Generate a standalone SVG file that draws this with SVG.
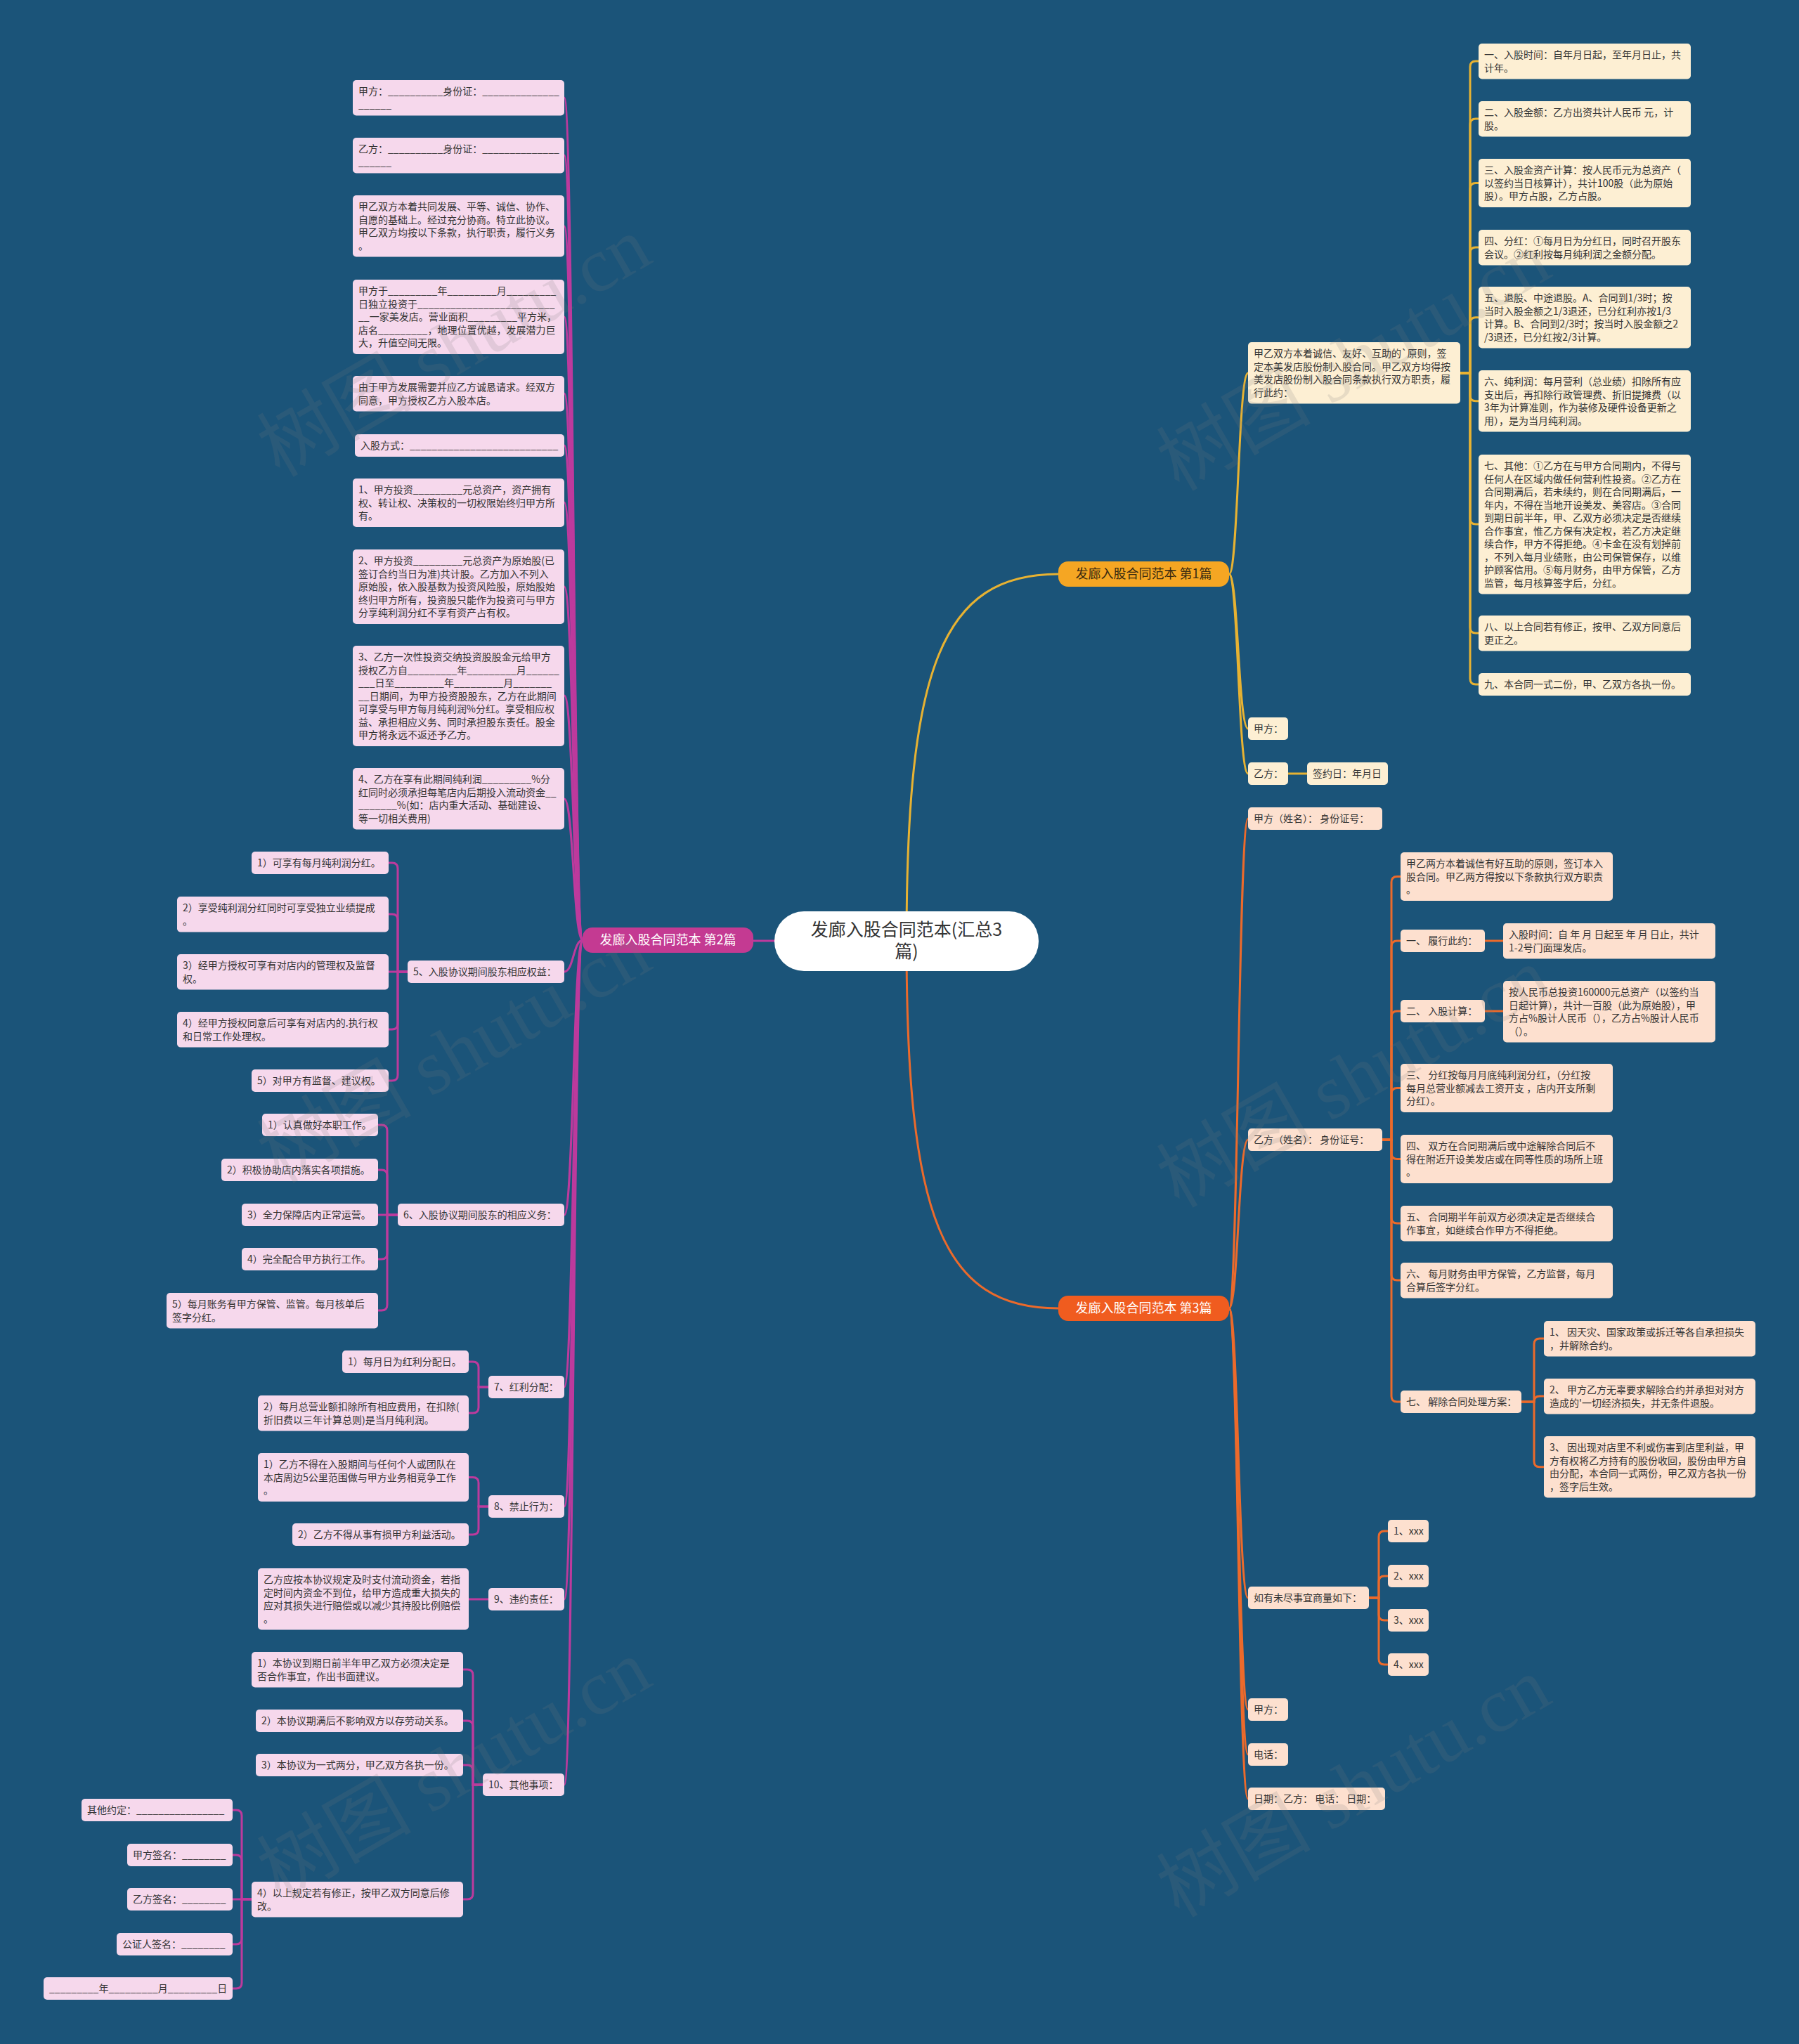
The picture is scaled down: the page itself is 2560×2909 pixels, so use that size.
<svg xmlns="http://www.w3.org/2000/svg" width="2560" height="2909" viewBox="0 0 2560 2909">
<style>
.t{font-family:"Noto Sans CJK SC","Microsoft YaHei",sans-serif;font-size:14px;fill:#333}
.p{fill:#f6d8ec}
.c{fill:#fdefd3}
.o{fill:#fde0cf}
.lm{fill:none;stroke:#bd3a9d;stroke-width:3}
.ly{fill:none;stroke:#e7b232;stroke-width:3}
.lo{fill:none;stroke:#ec6a2b;stroke-width:3}
.rt{font-family:"Noto Sans CJK SC",sans-serif;font-size:25px;fill:#333}
.bt{font-family:"Noto Sans CJK SC",sans-serif;font-size:18px}
.wm{font-family:"Liberation Serif","Noto Sans CJK SC",serif;font-size:110px;fill:#7a7a7a;opacity:0.16}
</style>
<rect width="2560" height="2909" fill="#1b5479"/>

<g id="connectors">
<path class="lm" d="M1102 1339 H1072"/>
<path class="ly" d="M1290 1340 C1290 950 1340 817 1506 817"/>
<path class="lo" d="M1290 1340 C1290 1730 1340 1862 1506 1862"/>
<path class="lm" d="M829 1338 C816 1338 816 139 803 139"/>
<path class="lm" d="M829 1338 C816 1338 816 221 803 221"/>
<path class="lm" d="M829 1338 C816 1338 816 322 803 322"/>
<path class="lm" d="M829 1338 C816 1338 816 451 803 451"/>
<path class="lm" d="M829 1338 C816 1338 816 560 803 560"/>
<path class="lm" d="M829 1338 C816 1338 816 634 803 634"/>
<path class="lm" d="M829 1338 C816 1338 816 715 803 715"/>
<path class="lm" d="M829 1338 C816 1338 816 835 803 835"/>
<path class="lm" d="M829 1338 C816 1338 816 990 803 990"/>
<path class="lm" d="M829 1338 C816 1338 816 1137 803 1137"/>
<path class="lm" d="M829 1338 C816 1338 816 1383 803 1383"/>
<path class="lm" d="M829 1338 C816 1338 816 1729 803 1729"/>
<path class="lm" d="M829 1338 C816 1338 816 1974 803 1974"/>
<path class="lm" d="M829 1338 C816 1338 816 2144 803 2144"/>
<path class="lm" d="M829 1338 C816 1338 816 2276 803 2276"/>
<path class="lm" d="M829 1338 C816 1338 816 2540 803 2540"/>
<path class="lm" d="M580 1383 H566 V1236 Q566 1228 558 1228 H553"/>
<path class="lm" d="M580 1383 H566 V1309 Q566 1301 558 1301 H553"/>
<path class="lm" d="M580 1383 H553"/>
<path class="lm" d="M580 1383 H566 V1457 Q566 1465 558 1465 H553"/>
<path class="lm" d="M580 1383 H566 V1530 Q566 1538 558 1538 H553"/>
<path class="lm" d="M566 1729 H551 V1609 Q551 1601 543 1601 H538"/>
<path class="lm" d="M566 1729 H551 V1673 Q551 1665 543 1665 H538"/>
<path class="lm" d="M566 1729 H538"/>
<path class="lm" d="M566 1729 H551 V1784 Q551 1792 543 1792 H538"/>
<path class="lm" d="M566 1729 H551 V1857 Q551 1865 543 1865 H538"/>
<path class="lm" d="M695 1974 H681 V1946 Q681 1938 673 1938 H667"/>
<path class="lm" d="M695 1974 H681 V2003 Q681 2011 673 2011 H667"/>
<path class="lm" d="M695 2144 H681 V2110.5 Q681 2102.5 673 2102.5 H667"/>
<path class="lm" d="M695 2144 H681 V2176 Q681 2184 673 2184 H667"/>
<path class="lm" d="M695 2276 H667"/>
<path class="lm" d="M687 2540 H673 V2384 Q673 2376 665 2376 H659"/>
<path class="lm" d="M687 2540 H673 V2457 Q673 2449 665 2449 H659"/>
<path class="lm" d="M687 2540 H673 V2520 Q673 2512 665 2512 H659"/>
<path class="lm" d="M687 2540 H673 V2695 Q673 2703 665 2703 H659"/>
<path class="lm" d="M358 2703 H344 V2584 Q344 2576 336 2576 H331"/>
<path class="lm" d="M358 2703 H344 V2648 Q344 2640 336 2640 H331"/>
<path class="lm" d="M358 2703 H331"/>
<path class="lm" d="M358 2703 H344 V2759 Q344 2767 336 2767 H331"/>
<path class="lm" d="M358 2703 H344 V2822 Q344 2830 336 2830 H331"/>
<path class="ly" d="M1749 817 C1762 817 1762 531 1776 531"/>
<path class="ly" d="M1749 817 C1762 817 1762 1037 1776 1037"/>
<path class="ly" d="M1749 817 C1762 817 1762 1101 1776 1101"/>
<path class="ly" d="M1833 1101 H1860"/>
<path class="ly" d="M2078 531 H2092 V95 Q2092 87 2100 87 H2104"/>
<path class="ly" d="M2078 531 H2092 V177 Q2092 169 2100 169 H2104"/>
<path class="ly" d="M2078 531 H2092 V268.5 Q2092 260.5 2100 260.5 H2104"/>
<path class="ly" d="M2078 531 H2092 V360 Q2092 352 2100 352 H2104"/>
<path class="ly" d="M2078 531 H2092 V459.75 Q2092 451.75 2100 451.75 H2104"/>
<path class="ly" d="M2078 531 H2092 V562.75 Q2092 570.75 2100 570.75 H2104"/>
<path class="ly" d="M2078 531 H2092 V738 Q2092 746 2100 746 H2104"/>
<path class="ly" d="M2078 531 H2092 V893 Q2092 901 2100 901 H2104"/>
<path class="ly" d="M2078 531 H2092 V966 Q2092 974 2100 974 H2104"/>
<path class="lo" d="M1749 1862 C1762 1862 1762 1165 1776 1165"/>
<path class="lo" d="M1749 1862 C1762 1862 1762 1622 1776 1622"/>
<path class="lo" d="M1749 1862 C1762 1862 1762 2274 1776 2274"/>
<path class="lo" d="M1749 1862 C1762 1862 1762 2433 1776 2433"/>
<path class="lo" d="M1749 1862 C1762 1862 1762 2497 1776 2497"/>
<path class="lo" d="M1749 1862 C1762 1862 1762 2560 1776 2560"/>
<path class="lo" d="M1967 1622 H1980 V1255.5 Q1980 1247.5 1988 1247.5 H1993"/>
<path class="lo" d="M1967 1622 H1980 V1347 Q1980 1339 1988 1339 H1993"/>
<path class="lo" d="M1967 1622 H1980 V1447 Q1980 1439 1988 1439 H1993"/>
<path class="lo" d="M1967 1622 H1980 V1556.5 Q1980 1548.5 1988 1548.5 H1993"/>
<path class="lo" d="M1967 1622 H1980 V1641.5 Q1980 1649.5 1988 1649.5 H1993"/>
<path class="lo" d="M1967 1622 H1980 V1733 Q1980 1741 1988 1741 H1993"/>
<path class="lo" d="M1967 1622 H1980 V1814 Q1980 1822 1988 1822 H1993"/>
<path class="lo" d="M1967 1622 H1980 V1987 Q1980 1995 1988 1995 H1993"/>
<path class="lo" d="M2113 1339 H2139"/>
<path class="lo" d="M2113 1439 H2139"/>
<path class="lo" d="M2165 1995 H2183 V1913 Q2183 1905 2191 1905 H2197"/>
<path class="lo" d="M2165 1995 H2183 V1995 Q2183 1987 2191 1987 H2197"/>
<path class="lo" d="M2165 1995 H2183 V2079.75 Q2183 2087.75 2191 2087.75 H2197"/>
<path class="lo" d="M1948 2274 H1962 V2187 Q1962 2179 1970 2179 H1975"/>
<path class="lo" d="M1948 2274 H1962 V2251 Q1962 2243 1970 2243 H1975"/>
<path class="lo" d="M1948 2274 H1962 V2298 Q1962 2306 1970 2306 H1975"/>
<path class="lo" d="M1948 2274 H1962 V2361 Q1962 2369 1970 2369 H1975"/>
</g>

<g id="root"><rect x="1102" y="1297" width="376" height="85" rx="42" fill="#ffffff"/><text class="rt" x="1290" y="1332" text-anchor="middle">发廊入股合同范本(汇总3</text><text class="rt" x="1290" y="1363" text-anchor="middle">篇)</text></g>

<g id="b1"><rect x="1506" y="799" width="243" height="36" rx="14" fill="#f5a623"/><text class="bt" x="1627.5" y="823" text-anchor="middle" fill="#3a2a10">发廊入股合同范本 第1篇</text></g>
<g id="b2"><rect x="829" y="1320" width="243" height="36" rx="14" fill="#c43a92"/><text class="bt" x="950.5" y="1344" text-anchor="middle" fill="#ffffff">发廊入股合同范本 第2篇</text></g>
<g id="b3"><rect x="1506" y="1844" width="243" height="36" rx="14" fill="#f05c1f"/><text class="bt" x="1627.5" y="1868" text-anchor="middle" fill="#ffffff">发廊入股合同范本 第3篇</text></g>

<g id="L1"><rect class="p" x="502" y="114" width="301" height="50.5" rx="5"/><text class="t"><tspan x="510" y="135">甲方：__________身份证：______________</tspan><tspan x="510" y="153.5">______</tspan></text></g>
<g id="L2"><rect class="p" x="502" y="196" width="301" height="50.5" rx="5"/><text class="t"><tspan x="510" y="217">乙方：__________身份证：______________</tspan><tspan x="510" y="235.5">______</tspan></text></g>
<g id="L3"><rect class="p" x="502" y="278" width="301" height="87.5" rx="5"/><text class="t"><tspan x="510" y="299">甲乙双方本着共同发展、平等、诚信、协作、</tspan><tspan x="510" y="317.5">自愿的基础上。经过充分协商。特立此协议。</tspan><tspan x="510" y="336">甲乙双方均按以下条款，执行职责，履行义务</tspan><tspan x="510" y="354.5">。</tspan></text></g>
<g id="L4"><rect class="p" x="502" y="398" width="301" height="106" rx="5"/><text class="t"><tspan x="510" y="419">甲方于_________年_________月_________</tspan><tspan x="510" y="437.5">日独立投资于_________________________</tspan><tspan x="510" y="456">__一家美发店。营业面积_________平方米，</tspan><tspan x="510" y="474.5">店名_________，地理位置优越，发展潜力巨</tspan><tspan x="510" y="493">大，升值空间无限。</tspan></text></g>
<g id="L5"><rect class="p" x="502" y="535" width="301" height="50.5" rx="5"/><text class="t"><tspan x="510" y="556">由于甲方发展需要并应乙方诚恳请求。经双方</tspan><tspan x="510" y="574.5">同意，甲方授权乙方入股本店。</tspan></text></g>
<g id="L6"><rect class="p" x="505" y="618" width="298" height="32" rx="5"/><text class="t" x="513" y="639">入股方式：___________________________</text></g>
<g id="L7"><rect class="p" x="502" y="681" width="301" height="69" rx="5"/><text class="t"><tspan x="510" y="702">1、甲方投资_________元总资产，资产拥有</tspan><tspan x="510" y="720.5">权、转让权、决策权的一切权限始终归甲方所</tspan><tspan x="510" y="739">有。</tspan></text></g>
<g id="L8"><rect class="p" x="502" y="782" width="301" height="106" rx="5"/><text class="t"><tspan x="510" y="803">2、甲方投资_________元总资产为原始股(已</tspan><tspan x="510" y="821.5">签订合约当日为准)共计股。乙方加入不列入</tspan><tspan x="510" y="840">原始股，依入股基数为投资风险股，原始股始</tspan><tspan x="510" y="858.5">终归甲方所有，投资股只能作为投资可与甲方</tspan><tspan x="510" y="877">分享纯利润分红不享有资产占有权。</tspan></text></g>
<g id="L9"><rect class="p" x="502" y="919" width="301" height="143" rx="5"/><text class="t"><tspan x="510" y="940">3、乙方一次性投资交纳投资股股金元给甲方</tspan><tspan x="510" y="958.5">授权乙方自_________年_________月______</tspan><tspan x="510" y="977">___日至_________年_________月_______</tspan><tspan x="510" y="995.5">__日期间，为甲方投资股股东，乙方在此期间</tspan><tspan x="510" y="1014">可享受与甲方每月纯利润%分红。享受相应权</tspan><tspan x="510" y="1032.5">益、承担相应义务、同时承担股东责任。股金</tspan><tspan x="510" y="1051">甲方将永远不返还予乙方。</tspan></text></g>
<g id="L10"><rect class="p" x="502" y="1093" width="301" height="87.5" rx="5"/><text class="t"><tspan x="510" y="1114">4、乙方在享有此期间纯利润_________%分</tspan><tspan x="510" y="1132.5">红同时必须承担每笔店内后期投入流动资金__</tspan><tspan x="510" y="1151">_______%(如：店内重大活动、基础建设、</tspan><tspan x="510" y="1169.5">等一切相关费用)</tspan></text></g>

<g id="N5"><rect class="p" x="580" y="1367" width="223" height="32" rx="5"/><text class="t" x="588" y="1388">5、入股协议期间股东相应权益：</text></g>
<g id="N5a"><rect class="p" x="358" y="1212" width="195" height="32" rx="5"/><text class="t" x="366" y="1233">1）可享有每月纯利润分红。</text></g>
<g id="N5b"><rect class="p" x="252" y="1276" width="301" height="50.5" rx="5"/><text class="t"><tspan x="260" y="1297">2）享受纯利润分红同时可享受独立业绩提成</tspan><tspan x="260" y="1315.5">。</tspan></text></g>
<g id="N5c"><rect class="p" x="252" y="1358" width="301" height="50.5" rx="5"/><text class="t"><tspan x="260" y="1379">3）经甲方授权可享有对店内的管理权及监督</tspan><tspan x="260" y="1397.5">权。</tspan></text></g>
<g id="N5d"><rect class="p" x="252" y="1440" width="301" height="50.5" rx="5"/><text class="t"><tspan x="260" y="1461">4）经甲方授权同意后可享有对店内的.执行权</tspan><tspan x="260" y="1479.5">和日常工作处理权。</tspan></text></g>
<g id="N5e"><rect class="p" x="358" y="1522" width="195" height="32" rx="5"/><text class="t" x="366" y="1543">5）对甲方有监督、建议权。</text></g>

<g id="N6"><rect class="p" x="566" y="1713" width="237" height="32" rx="5"/><text class="t" x="574" y="1734">6、入股协议期间股东的相应义务：</text></g>
<g id="N6a"><rect class="p" x="373" y="1585" width="165" height="32" rx="5"/><text class="t" x="381" y="1606">1）认真做好本职工作。</text></g>
<g id="N6b"><rect class="p" x="315" y="1649" width="223" height="32" rx="5"/><text class="t" x="323" y="1670">2）积极协助店内落实各项措施。</text></g>
<g id="N6c"><rect class="p" x="344" y="1713" width="194" height="32" rx="5"/><text class="t" x="352" y="1734">3）全力保障店内正常运营。</text></g>
<g id="N6d"><rect class="p" x="344" y="1776" width="194" height="32" rx="5"/><text class="t" x="352" y="1797">4）完全配合甲方执行工作。</text></g>
<g id="N6e"><rect class="p" x="237" y="1840" width="301" height="50.5" rx="5"/><text class="t"><tspan x="245" y="1861">5）每月账务有甲方保管、监管。每月核单后</tspan><tspan x="245" y="1879.5">签字分红。</tspan></text></g>

<g id="N7"><rect class="p" x="695" y="1958" width="108" height="32" rx="5"/><text class="t" x="703" y="1979">7、红利分配：</text></g>
<g id="N7a"><rect class="p" x="487" y="1922" width="180" height="32" rx="5"/><text class="t" x="495" y="1943">1）每月日为红利分配日。</text></g>
<g id="N7b"><rect class="p" x="367" y="1986" width="300" height="50.5" rx="5"/><text class="t"><tspan x="375" y="2007">2）每月总营业额扣除所有相应费用，在扣除(</tspan><tspan x="375" y="2025.5">折旧费以三年计算总则)是当月纯利润。</tspan></text></g>

<g id="N8"><rect class="p" x="695" y="2128" width="108" height="32" rx="5"/><text class="t" x="703" y="2149">8、禁止行为：</text></g>
<g id="N8a"><rect class="p" x="367" y="2068" width="300" height="69" rx="5"/><text class="t"><tspan x="375" y="2089">1）乙方不得在入股期间与任何个人或团队在</tspan><tspan x="375" y="2107.5">本店周边5公里范围做与甲方业务相竞争工作</tspan><tspan x="375" y="2126">。</tspan></text></g>
<g id="N8b"><rect class="p" x="416" y="2168" width="251" height="32" rx="5"/><text class="t" x="424" y="2189">2）乙方不得从事有损甲方利益活动。</text></g>

<g id="N9"><rect class="p" x="695" y="2260" width="108" height="32" rx="5"/><text class="t" x="703" y="2281">9、违约责任：</text></g>
<g id="N9a"><rect class="p" x="367" y="2232" width="300" height="87.5" rx="5"/><text class="t"><tspan x="375" y="2253">乙方应按本协议规定及时支付流动资金，若指</tspan><tspan x="375" y="2271.5">定时间内资金不到位，给甲方造成重大损失的</tspan><tspan x="375" y="2290">应对其损失进行赔偿或以减少其持股比例赔偿</tspan><tspan x="375" y="2308.5">。</tspan></text></g>

<g id="N10"><rect class="p" x="687" y="2524" width="116" height="32" rx="5"/><text class="t" x="695" y="2545">10、其他事项：</text></g>
<g id="N10a"><rect class="p" x="358" y="2351" width="301" height="50.5" rx="5"/><text class="t"><tspan x="366" y="2372">1）本协议到期日前半年甲乙双方必须决定是</tspan><tspan x="366" y="2390.5">否合作事宜，作出书面建议。</tspan></text></g>
<g id="N10b"><rect class="p" x="364" y="2433" width="295" height="32" rx="5"/><text class="t" x="372" y="2454">2）本协议期满后不影响双方以存劳动关系。</text></g>
<g id="N10c"><rect class="p" x="364" y="2496" width="295" height="32" rx="5"/><text class="t" x="372" y="2517">3）本协议为一式两分，甲乙双方各执一份。</text></g>
<g id="N10d"><rect class="p" x="358" y="2678" width="301" height="50.5" rx="5"/><text class="t"><tspan x="366" y="2699">4）以上规定若有修正，按甲乙双方同意后修</tspan><tspan x="366" y="2717.5">改。</tspan></text></g>
<g id="N10d1"><rect class="p" x="116" y="2560" width="215" height="32" rx="5"/><text class="t" x="124" y="2581">其他约定：________________</text></g>
<g id="N10d2"><rect class="p" x="181" y="2624" width="150" height="32" rx="5"/><text class="t" x="189" y="2645">甲方签名：________</text></g>
<g id="N10d3"><rect class="p" x="181" y="2687" width="150" height="32" rx="5"/><text class="t" x="189" y="2708">乙方签名：________</text></g>
<g id="N10d4"><rect class="p" x="166" y="2751" width="165" height="32" rx="5"/><text class="t" x="174" y="2772">公证人签名：________</text></g>
<g id="N10d5"><rect class="p" x="62" y="2814" width="269" height="32" rx="5"/><text class="t" x="70" y="2835">_________年_________月_________日</text></g>

<g id="R1"><rect class="c" x="1776" y="487" width="302" height="87.5" rx="5"/><text class="t"><tspan x="1784" y="508">甲乙双方本着诚信、友好、互助的`原则，签</tspan><tspan x="1784" y="526.5">定本美发店股份制入股合同。甲乙双方均得按</tspan><tspan x="1784" y="545">美发店股份制入股合同条款执行双方职责，履</tspan><tspan x="1784" y="563.5">行此约：</tspan></text></g>
<g id="RA"><rect class="c" x="1776" y="1021" width="57" height="32" rx="5"/><text class="t" x="1784" y="1042">甲方：</text></g>
<g id="RB"><rect class="c" x="1776" y="1085" width="57" height="32" rx="5"/><text class="t" x="1784" y="1106">乙方：</text></g>
<g id="RC"><rect class="c" x="1860" y="1085" width="115" height="32" rx="5"/><text class="t" x="1868" y="1106">签约日：年月日</text></g>
<g id="r1"><rect class="c" x="2104" y="62" width="302" height="50.5" rx="5"/><text class="t"><tspan x="2112" y="83">一、入股时间：自年月日起，至年月日止，共</tspan><tspan x="2112" y="101.5">计年。</tspan></text></g>
<g id="r2"><rect class="c" x="2104" y="144" width="302" height="50.5" rx="5"/><text class="t"><tspan x="2112" y="165">二、入股金额：乙方出资共计人民币 元，计</tspan><tspan x="2112" y="183.5">股。</tspan></text></g>
<g id="r3"><rect class="c" x="2104" y="226" width="302" height="69" rx="5"/><text class="t"><tspan x="2112" y="247">三、入股金资产计算：按人民币元为总资产（</tspan><tspan x="2112" y="265.5">以签约当日核算计），共计100股（此为原始</tspan><tspan x="2112" y="284">股）。甲方占股，乙方占股。</tspan></text></g>
<g id="r4"><rect class="c" x="2104" y="327" width="302" height="50.5" rx="5"/><text class="t"><tspan x="2112" y="348">四、分红：①每月日为分红日，同时召开股东</tspan><tspan x="2112" y="366.5">会议。②红利按每月纯利润之金额分配。</tspan></text></g>
<g id="r5"><rect class="c" x="2104" y="408" width="302" height="87.5" rx="5"/><text class="t"><tspan x="2112" y="429">五、退股、中途退股。A、合同到1/3时；按</tspan><tspan x="2112" y="447.5">当时入股金额之1/3退还，已分红利亦按1/3</tspan><tspan x="2112" y="466">计算。B、合同到2/3时；按当时入股金额之2</tspan><tspan x="2112" y="484.5">/3退还，已分红按2/3计算。</tspan></text></g>
<g id="r6"><rect class="c" x="2104" y="527" width="302" height="87.5" rx="5"/><text class="t"><tspan x="2112" y="548">六、纯利润：每月营利（总业绩）扣除所有应</tspan><tspan x="2112" y="566.5">支出后，再扣除行政管理费、折旧提摊费（以</tspan><tspan x="2112" y="585">3年为计算准则，作为装修及硬件设备更新之</tspan><tspan x="2112" y="603.5">用），是为当月纯利润。</tspan></text></g>
<g id="r7"><rect class="c" x="2104" y="647" width="302" height="198.5" rx="5"/><text class="t"><tspan x="2112" y="668">七、其他：①乙方在与甲方合同期内，不得与</tspan><tspan x="2112" y="686.5">任何人在区域内做任何营利性投资。②乙方在</tspan><tspan x="2112" y="705">合同期满后，若未续约，则在合同期满后，一</tspan><tspan x="2112" y="723.5">年内，不得在当地开设美发、美容店。③合同</tspan><tspan x="2112" y="742">到期日前半年，甲、乙双方必须决定是否继续</tspan><tspan x="2112" y="760.5">合作事宜，惟乙方保有决定权，若乙方决定继</tspan><tspan x="2112" y="779">续合作，甲方不得拒绝。④卡金在没有划掉前</tspan><tspan x="2112" y="797.5">，不列入每月业绩账，由公司保管保存，以维</tspan><tspan x="2112" y="816">护顾客信用。⑤每月财务，由甲方保管，乙方</tspan><tspan x="2112" y="834.5">监管，每月核算签字后，分红。</tspan></text></g>
<g id="r8"><rect class="c" x="2104" y="876" width="302" height="50.5" rx="5"/><text class="t"><tspan x="2112" y="897">八、以上合同若有修正，按甲、乙双方同意后</tspan><tspan x="2112" y="915.5">更正之。</tspan></text></g>
<g id="r9"><rect class="c" x="2104" y="958" width="302" height="32" rx="5"/><text class="t" x="2112" y="979">九、本合同一式二份，甲、乙双方各执一份。</text></g>

<g id="S1"><rect class="o" x="1776" y="1149" width="191" height="32" rx="5"/><text class="t" x="1784" y="1170">甲方（姓名）： 身份证号：</text></g>
<g id="S2"><rect class="o" x="1776" y="1606" width="191" height="32" rx="5"/><text class="t" x="1784" y="1627">乙方（姓名）： 身份证号：</text></g>
<g id="S3"><rect class="o" x="1776" y="2258" width="172" height="32" rx="5"/><text class="t" x="1784" y="2279">如有未尽事宜商量如下：</text></g>
<g id="S4"><rect class="o" x="1776" y="2417" width="57" height="32" rx="5"/><text class="t" x="1784" y="2438">甲方：</text></g>
<g id="S5"><rect class="o" x="1776" y="2481" width="57" height="32" rx="5"/><text class="t" x="1784" y="2502">电话：</text></g>
<g id="S6"><rect class="o" x="1776" y="2544" width="195" height="32" rx="5"/><text class="t" x="1784" y="2565">日期：乙方： 电话： 日期：</text></g>
<g id="s0"><rect class="o" x="1993" y="1213" width="302" height="69" rx="5"/><text class="t"><tspan x="2001" y="1234">甲乙两方本着诚信有好互助的原则，签订本入</tspan><tspan x="2001" y="1252.5">股合同。甲乙两方得按以下条款执行双方职责</tspan><tspan x="2001" y="1271">。</tspan></text></g>
<g id="s1"><rect class="o" x="1993" y="1323" width="120" height="32" rx="5"/><text class="t" x="2001" y="1344">一、 履行此约：</text></g>
<g id="s1a"><rect class="o" x="2139" y="1314" width="302" height="50.5" rx="5"/><text class="t"><tspan x="2147" y="1335">入股时间：自 年 月 日起至 年 月 日止，共计</tspan><tspan x="2147" y="1353.5">1-2号门面理发店。</tspan></text></g>
<g id="s2"><rect class="o" x="1993" y="1423" width="120" height="32" rx="5"/><text class="t" x="2001" y="1444">二、 入股计算：</text></g>
<g id="s2a"><rect class="o" x="2139" y="1396" width="302" height="87.5" rx="5"/><text class="t"><tspan x="2147" y="1417">按人民币总投资160000元总资产（以签约当</tspan><tspan x="2147" y="1435.5">日起计算），共计一百股（此为原始股），甲</tspan><tspan x="2147" y="1454">方占%股计人民币（），乙方占%股计人民币</tspan><tspan x="2147" y="1472.5">（）。</tspan></text></g>
<g id="s3"><rect class="o" x="1993" y="1514" width="302" height="69" rx="5"/><text class="t"><tspan x="2001" y="1535">三、 分红按每月月底纯利润分红，（分红按</tspan><tspan x="2001" y="1553.5">每月总营业额减去工资开支 ，店内开支所剩</tspan><tspan x="2001" y="1572">分红）。</tspan></text></g>
<g id="s4"><rect class="o" x="1993" y="1615" width="302" height="69" rx="5"/><text class="t"><tspan x="2001" y="1636">四、 双方在合同期满后或中途解除合同后不</tspan><tspan x="2001" y="1654.5">得在附近开设美发店或在同等性质的场所上班</tspan><tspan x="2001" y="1673">。</tspan></text></g>
<g id="s5"><rect class="o" x="1993" y="1716" width="302" height="50.5" rx="5"/><text class="t"><tspan x="2001" y="1737">五、 合同期半年前双方必须决定是否继续合</tspan><tspan x="2001" y="1755.5">作事宜，如继续合作甲方不得拒绝。</tspan></text></g>
<g id="s6"><rect class="o" x="1993" y="1797" width="302" height="50.5" rx="5"/><text class="t"><tspan x="2001" y="1818">六、 每月财务由甲方保管，乙方监督，每月</tspan><tspan x="2001" y="1836.5">合算后签字分红。</tspan></text></g>
<g id="s7"><rect class="o" x="1993" y="1979" width="172" height="32" rx="5"/><text class="t" x="2001" y="2000">七、 解除合同处理方案：</text></g>
<g id="t1"><rect class="o" x="2197" y="1880" width="301" height="50.5" rx="5"/><text class="t"><tspan x="2205" y="1901">1、 因天灾、国家政策或拆迁等各自承担损失</tspan><tspan x="2205" y="1919.5">，并解除合约。</tspan></text></g>
<g id="t2"><rect class="o" x="2197" y="1962" width="301" height="50.5" rx="5"/><text class="t"><tspan x="2205" y="1983">2、 甲方乙方无辜要求解除合约并承担对对方</tspan><tspan x="2205" y="2001.5">造成的'一切经济损失，并无条件退股。</tspan></text></g>
<g id="t3"><rect class="o" x="2197" y="2044" width="301" height="87.5" rx="5"/><text class="t"><tspan x="2205" y="2065">3、 因出现对店里不利或伤害到店里利益，甲</tspan><tspan x="2205" y="2083.5">方有权将乙方持有的股份收回，股份由甲方自</tspan><tspan x="2205" y="2102">由分配，本合同一式两份，甲乙双方各执一份</tspan><tspan x="2205" y="2120.5">，签字后生效。</tspan></text></g>
<g id="u1"><rect class="o" x="1975" y="2163" width="58" height="32" rx="5"/><text class="t" x="1983" y="2184">1、xxx</text></g>
<g id="u2"><rect class="o" x="1975" y="2227" width="58" height="32" rx="5"/><text class="t" x="1983" y="2248">2、xxx</text></g>
<g id="u3"><rect class="o" x="1975" y="2290" width="58" height="32" rx="5"/><text class="t" x="1983" y="2311">3、xxx</text></g>
<g id="u4"><rect class="o" x="1975" y="2353" width="58" height="32" rx="5"/><text class="t" x="1983" y="2374">4、xxx</text></g>

<g id="watermark">
<text class="wm" x="650" y="530" text-anchor="middle" transform="rotate(-30 650 500)">树图 shutu.cn</text>
<text class="wm" x="1930" y="550" text-anchor="middle" transform="rotate(-30 1930 520)">树图 shutu.cn</text>
<text class="wm" x="650" y="1535" text-anchor="middle" transform="rotate(-30 650 1505)">树图 shutu.cn</text>
<text class="wm" x="1930" y="1570" text-anchor="middle" transform="rotate(-30 1930 1540)">树图 shutu.cn</text>
<text class="wm" x="650" y="2555" text-anchor="middle" transform="rotate(-30 650 2525)">树图 shutu.cn</text>
<text class="wm" x="1930" y="2580" text-anchor="middle" transform="rotate(-30 1930 2550)">树图 shutu.cn</text>
</g>
</svg>
